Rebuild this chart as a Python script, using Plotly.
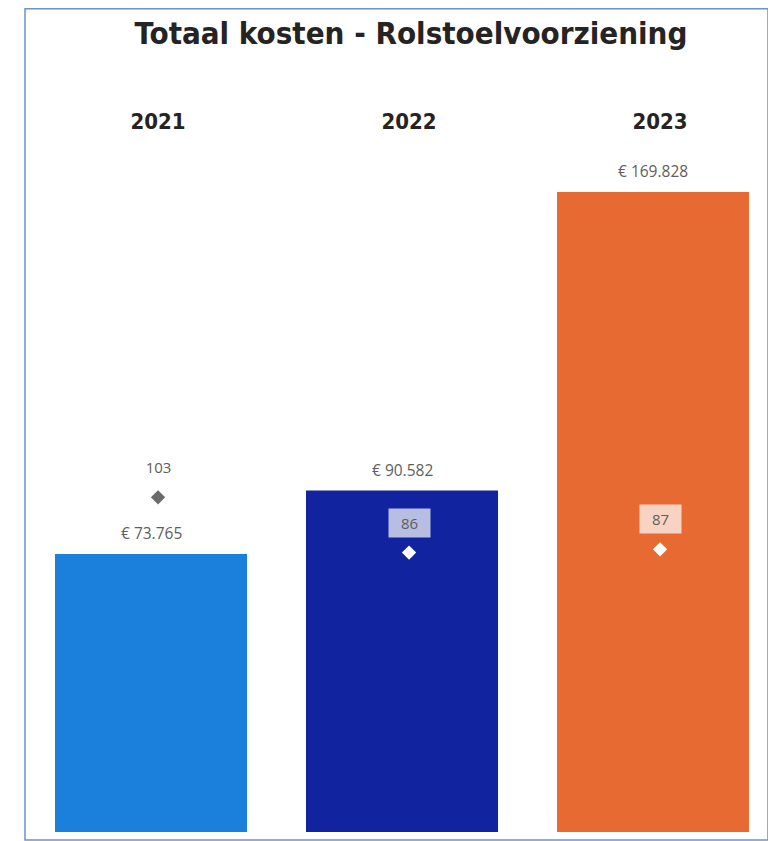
import plotly.graph_objects as go

# ---- data ----
years = ["2021", "2022", "2023"]
kosten = [73765, 90582, 169828]
aantal = [103, 86, 87]
kosten_labels = ["€ 73.765", "€ 90.582", "€ 169.828"]

# ---- styles ----
bar_colors = ["#1A80DB", "#11239E", "#E86A33"]
marker_colors = ["#6B6B6B", "#FFFFFF", "#FFFFFF"]
label_color = "#605E5C"
OFF = 8  # browser body margin
W, H = 776 - OFF, 841 - OFF
L, R, T, B = 25 - OFF, 7, 140 - OFF, 9

fig = go.Figure()
fig.add_trace(go.Bar(
    x=years, y=kosten, marker_color=bar_colors, width=0.765,
    marker_line_width=0, xaxis="x", yaxis="y", hoverinfo="x+y",
))
fig.add_trace(go.Scatter(
    x=years, y=aantal, mode="markers", xaxis="x2", yaxis="y2",
    marker=dict(symbol="diamond", size=11, color=marker_colors, line=dict(width=0)),
    cliponaxis=False,
))

annotations = []
for i, (v, t) in enumerate(zip(kosten, kosten_labels)):
    annotations.append(dict(
        x=i, y=v, xref="x", yref="y", text=t, showarrow=False,
        yanchor="middle", yshift=21,
        font=dict(family="Open Sans, sans-serif", size=15.5, color=label_color),
    ))
for i, n in enumerate(aantal):
    annotations.append(dict(
        x=i, y=n, xref="x2", yref="y2", text=str(n), showarrow=False,
        yanchor="middle", yshift=30, width=29, height=16, borderpad=6,
        bgcolor="rgba(255,255,255,0.7)",
        font=dict(family="Open Sans, sans-serif", size=15, color=label_color),
    ))

plot_h = H - T - B
plot_w = W - L - R
rng = [-0.502, 2.462]
shift = 0.028
fig.update_layout(
    width=W, height=H,
    margin=dict(l=L, r=R, t=T, b=B),
    paper_bgcolor="white", plot_bgcolor="white",
    showlegend=False,
    separators=",.",
    title=dict(
        text="Totaal kosten - Rolstoelvoorziening",
        x=(411 - OFF) / W, xanchor="center", y=1 - (33 - OFF) / H, yanchor="middle",
        font=dict(family="DejaVu Sans Condensed, sans-serif", size=31, color="#252423", weight="bold"),
    ),
    xaxis=dict(type="category", range=rng, showticklabels=False, showgrid=False,
               zeroline=False, showline=False, ticks=""),
    xaxis2=dict(type="category", overlaying="x", side="top",
                range=[rng[0] - shift, rng[1] - shift], showgrid=False, zeroline=False,
                showline=False, ticks="", ticklabelstandoff=6,
                tickfont=dict(family="DejaVu Sans Condensed, sans-serif", size=22,
                              color="#252423", weight="bold")),
    yaxis=dict(range=[0, 183600], visible=False),
    yaxis2=dict(range=[0, 213], overlaying="y", visible=False),
    annotations=annotations,
    shapes=[dict(type="rect", xref="paper", yref="paper",
                 x0=0, x1=(768 - OFF - L) / plot_w,
                 y0=-(840 - 832) / plot_h, y1=(H - B - 0.75) / plot_h,
                 line=dict(color="#6C90D4", width=1.5), layer="above")],
)

fig.write_html("out.html")
